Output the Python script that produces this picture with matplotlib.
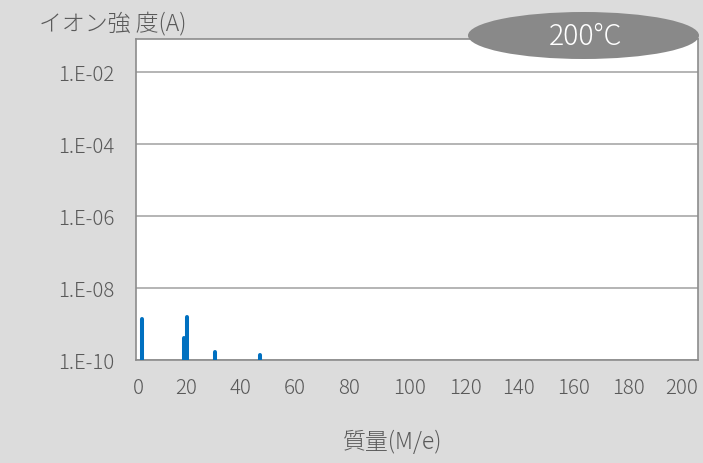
"""
Mass spectrum at 200C (ion current vs. m/e), log scale
"""

import matplotlib
matplotlib.use('Agg')
import matplotlib.pyplot as plt
from matplotlib.patches import Ellipse
from matplotlib.ticker import FixedLocator, NullLocator
from matplotlib.transforms import ScaledTranslation

plt.rcParams['font.family'] = ['Noto Sans CJK JP', 'DejaVu Sans']

### Data
mass = [2, 17, 18, 28, 44]
ion_current = [1.4e-9, 4.0e-10, 1.6e-9, 1.7e-10, 1.4e-10]
base = 1e-10

xticks = [0, 20, 40, 60, 80, 100, 120, 140, 160, 180, 200]
yticks = [1e-10, 1e-8, 1e-6, 1e-4, 1e-2]
ylabels = ['1.E-10', '1.E-08', '1.E-06', '1.E-04', '1.E-02']

title_temp = '200°C'
ylab = 'イオン強 度(A)'
xlab = '質量(M/e)'


def main():
    bg = '#dcdcdc'
    tc = '#595959'
    dpi = 100

    fig = plt.figure(figsize=(7.03, 4.64), dpi=dpi)
    fig.patch.set_facecolor(bg)

    ## axes in pixels: left 136, right 697.7, top 40, bottom 361
    W, H = 703., 464.
    l, r, t, b = 136, 697.7, 40, 361
    ax = fig.add_axes([l/W, 1-b/H, (r-l)/W, (b-t)/H])
    ax.set_facecolor('white')

    ax.vlines(mass, base, ion_current, colors='#0070c0', lw=2.9,
              capstyle='round', zorder=3)

    ax.set_yscale('log')
    ax.set_xlim(0, 200)
    ax.set_ylim(1e-10, 10**-1.08)
    ax.yaxis.set_major_locator(FixedLocator(yticks))
    ax.yaxis.set_minor_locator(NullLocator())
    ax.set_yticklabels(ylabels)
    ax.set_xticks(xticks)
    ax.grid(axis='y', color='#a0a0a0', lw=1.1)
    ax.set_axisbelow(True)

    for s in ax.spines.values():
        s.set_color('#8c8c8c')
        s.set_linewidth(1.2)

    ax.tick_params(axis='both', length=0, labelsize=14.7, colors=tc)
    ax.tick_params(axis='y', pad=15.5)
    ax.tick_params(axis='x', pad=12)

    ## x labels sit a bit left of their ticks in the original (px)
    shift = [2.7, -6.2, -8.3, -9.5, -11.7, -6.9, -8, -10.2, -11.4, -13.5, -15.7]
    for lbl, dx in zip(ax.get_xticklabels(), shift):
        lbl.set_transform(lbl.get_transform() +
                          ScaledTranslation(dx/dpi, 0, fig.dpi_scale_trans))
    for lbl in ax.get_xticklabels() + ax.get_yticklabels():
        lbl.set_fontweight('light')

    fig.text(39/W, 1-24/H, ylab, fontsize=16.5, color=tc, va='center', ha='left',
             fontweight='light')
    fig.text(393/W, 1-443/H, xlab, fontsize=16.5, color=tc, va='center', ha='center',
             fontweight='light')

    ## temperature badge
    ell = Ellipse((583.5/W, 1-36.5/H), 231/W, 47/H, transform=fig.transFigure,
                  facecolor='#898989', edgecolor='none', zorder=5)
    fig.patches.append(ell)
    fig.text(586/W, 1-37/H, title_temp, fontsize=20.5, color='white',
             ha='center', va='center', zorder=6, fontweight='light')

    fig.savefig('out.png', dpi=dpi, facecolor=bg)
    return


if __name__ == '__main__':
    main()
